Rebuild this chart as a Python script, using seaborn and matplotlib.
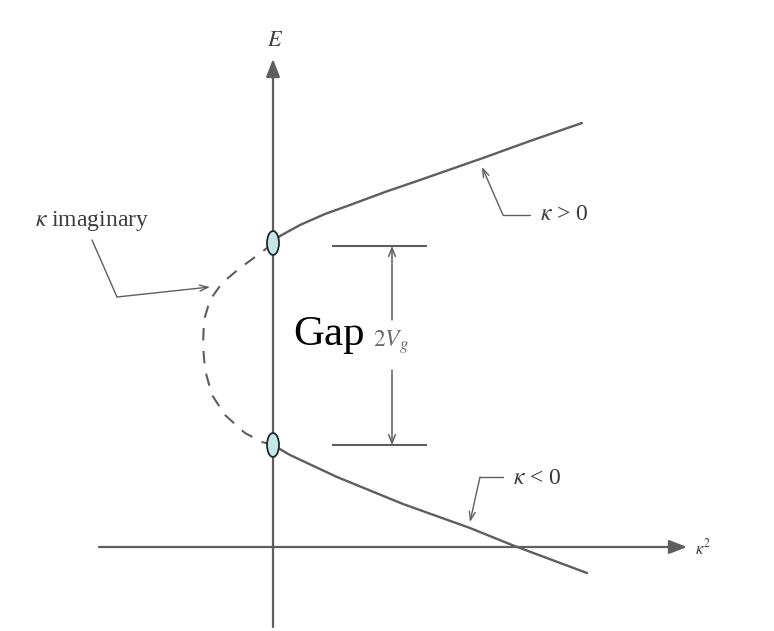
import matplotlib
matplotlib.use("Agg")
import matplotlib.pyplot as plt
from matplotlib.patches import Ellipse
import pandas as pd
import seaborn as sns

# Band structure near a zone boundary: energy E against kappa^2
# (units: kappa^2 along x, E along y, origin at the axis crossing)
upper_k2 = [0.00, 0.07, 0.27, 0.52, 0.77, 1.12, 1.47, 2.10, 2.57, 3.09]
upper_E = [3.04, 3.11, 3.22, 3.33, 3.42, 3.55, 3.67, 3.89, 4.06, 4.24]

lower_k2 = [0.00, 0.17, 0.64, 1.30, 1.97, 2.39, 3.14]
lower_E = [1.02, 0.92, 0.70, 0.43, 0.19, 0.02, -0.26]

imag_k2 = [0.00, -0.11, -0.33, -0.51, -0.63, -0.69, -0.70, -0.68, -0.61, -0.48, -0.28, -0.11, 0.00]
imag_E = [3.04, 2.95, 2.79, 2.64, 2.47, 2.27, 2.02, 1.77, 1.52, 1.32, 1.14, 1.05, 1.02]

band_edges = [3.04, 1.02]          # E at kappa^2 = 0, top and bottom of the gap
gap_top, gap_bottom = 3.01, 1.02   # 2V_g bracket

upper = pd.DataFrame({"k2": upper_k2, "E": upper_E})
lower = pd.DataFrame({"k2": lower_k2, "E": lower_E})
imag = pd.DataFrame({"k2": imag_k2, "E": imag_E})

sns.set_theme(style="white")
plt.rcParams["font.family"] = ["Liberation Serif", "DejaVu Serif"]
plt.rcParams["mathtext.fontset"] = "stix"

fig = plt.figure(figsize=(7.74, 6.31), dpi=100)
ax = fig.add_axes([0, 0, 1, 1])
ax.set_xlim(-2.73, 5.01)
ax.set_ylim(-0.84, 5.47)
ax.axis("off")

line_c = "#5e5e5e"
text_c = "#3c3c3c"

# coordinate axes with filled arrowheads
ax.annotate("", xy=(4.14, 0.0), xytext=(-1.74, 0.0),
            arrowprops=dict(arrowstyle="-|>,head_length=0.9,head_width=0.35",
                            color=line_c, lw=1.6, shrinkA=0, shrinkB=0))
ax.annotate("", xy=(0.0, 4.88), xytext=(0.0, -0.80),
            arrowprops=dict(arrowstyle="-|>,head_length=0.9,head_width=0.35",
                            color=line_c, lw=1.6, shrinkA=0, shrinkB=0))
ax.text(0.02, 5.05, "$E$", fontsize=16, color=text_c, ha="center", va="center")
ax.text(4.22, -0.01, r"$\kappa^2$", fontsize=12, color=text_c, ha="left",
        va="center")

# energy branches (points drawn in the given order, no aggregation)
line_kw = dict(x="k2", y="E", sort=False, estimator=None, errorbar=None, ax=ax)
sns.lineplot(data=upper, color=line_c, lw=1.7, **line_kw)
sns.lineplot(data=lower, color=line_c, lw=1.7, **line_kw)
sns.lineplot(data=imag, color=line_c, lw=1.5, linestyle=(0, (6, 5)), **line_kw)

# band-edge markers
for e in band_edges:
    ax.add_patch(Ellipse((0.0, e), 0.12, 0.24, facecolor="#c6e8e5",
                         edgecolor="#1f2a30", lw=1.3, zorder=5))

# 2V_g bracket
ax.hlines([gap_top, gap_bottom], 0.59, 1.54, color=line_c, lw=1.5)
ax.annotate("", xy=(1.19, gap_top), xytext=(1.19, 2.27),
            arrowprops=dict(arrowstyle="->,head_length=0.5,head_width=0.2",
                            color=line_c, lw=1.1, shrinkA=0, shrinkB=0))
ax.annotate("", xy=(1.19, gap_bottom), xytext=(1.19, 1.77),
            arrowprops=dict(arrowstyle="->,head_length=0.5,head_width=0.2",
                            color=line_c, lw=1.1, shrinkA=0, shrinkB=0))
ax.text(0.20, 2.12, "Gap", fontsize=31, color="black", ha="left", va="center")
ax.text(1.00, 2.05, "$2V_g$", fontsize=17, color="#6a6a6a", ha="left",
        va="center")

# branch labels with leader lines
lead = dict(color=line_c, lw=1.0)
head = "->,head_length=0.5,head_width=0.18"
ax.plot([2.57, 2.30], [3.32, 3.32], **lead)
ax.annotate("", xy=(2.09, 3.80), xytext=(2.30, 3.32),
            arrowprops=dict(arrowstyle=head, shrinkA=0, shrinkB=0, **lead))
ax.text(2.67, 3.32, r"$\kappa$ > 0", fontsize=17, color=text_c, ha="left",
        va="center")

ax.plot([2.30, 2.07], [0.70, 0.70], **lead)
ax.annotate("", xy=(1.97, 0.25), xytext=(2.07, 0.70),
            arrowprops=dict(arrowstyle=head, shrinkA=0, shrinkB=0, **lead))
ax.text(2.40, 0.69, r"$\kappa$ < 0", fontsize=17, color=text_c, ha="left",
        va="center")

ax.plot([-1.81, -1.56], [3.07, 2.50], **lead)
ax.annotate("", xy=(-0.63, 2.60), xytext=(-1.56, 2.50),
            arrowprops=dict(arrowstyle=head, shrinkA=0, shrinkB=0, **lead))
ax.text(-2.38, 3.26, r"$\kappa$ imaginary", fontsize=17, color=text_c,
        ha="left", va="center")

fig.savefig("out.png", dpi=100, facecolor="white")
